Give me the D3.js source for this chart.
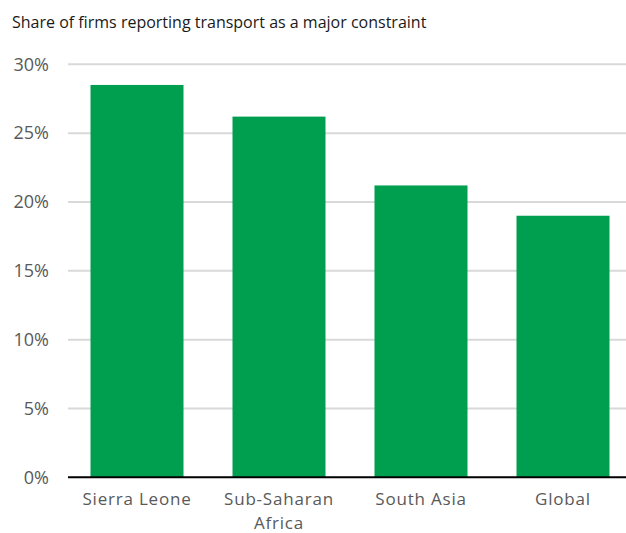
<!DOCTYPE html>
<html>
<head>
<meta charset="utf-8">
<script src="https://cdn.jsdelivr.net/npm/d3@7"></script>
<style>
  body { margin: 0; background: #fff; }
  svg { display: block; font-family: "Open Sans", sans-serif; }
</style>
</head>
<body>
<svg id="chart" width="626" height="533"></svg>
<script>
// chart data
const categories = ["Sierra Leone", "Sub-Saharan Africa", "South Asia", "Global"];
const shares = [28.5, 26.2, 21.2, 19.0];
const yTicks = [0, 5, 10, 15, 20, 25, 30];
const title = "Share of firms reporting transport as a major constraint";

const data = categories.map((c, i) => ({ name: c, value: shares[i] }));

var width = 626,
  plotLeft = 68,
  plotTop = 64.3,
  plotBottom = 477.3;

var svg = d3.select("#chart");

// title
svg.append("text")
  .attr("x", 12)
  .attr("y", 28)
  .attr("fill", "#1a1a1a")
  .style("font-size", "16px")
  .text(title);

var x = d3.scaleBand()
  .domain(categories)
  .range([66, 634])
  .paddingInner(0.345)
  .paddingOuter(0.1725);

var y = d3.scaleLinear().domain([0, 30]).range([plotBottom, plotTop]);

// gridlines
svg.append("g")
  .selectAll("line")
  .data(yTicks.filter((d) => d > 0))
  .enter()
  .append("line")
  .attr("x1", plotLeft)
  .attr("x2", width)
  .attr("y1", (d) => y(d))
  .attr("y2", (d) => y(d))
  .attr("stroke", "#d9d9d9")
  .attr("stroke-width", 2);

// y axis labels
var yAxis = svg.append("g")
  .attr("transform", "translate(" + plotLeft + ",0)")
  .call(d3.axisLeft(y).tickValues(yTicks).tickFormat((d) => d + "%").tickSize(0).tickPadding(19));
yAxis.select(".domain").remove();
yAxis.selectAll("text")
  .attr("fill", "#595959")
  .style("font-size", "18px")
  .style("font-family", "Open Sans, sans-serif");

// bars
svg.selectAll("rect.bar")
  .data(data)
  .enter()
  .append("rect")
  .attr("class", "bar")
  .attr("fill", "#009e4f")
  .attr("x", (d) => x(d.name))
  .attr("y", (d) => y(d.value))
  .attr("width", x.bandwidth())
  .attr("height", (d) => y(0) - y(d.value));

// x axis line
svg.append("line")
  .attr("x1", plotLeft)
  .attr("x2", width)
  .attr("y1", y(0))
  .attr("y2", y(0))
  .attr("stroke", "#000")
  .attr("stroke-width", 2);

// category labels (wrap "Sub-Saharan Africa")
var labels = svg.append("g")
  .selectAll("text")
  .data(categories)
  .enter()
  .append("text")
  .attr("text-anchor", "middle")
  .attr("fill", "#595959")
  .style("font-size", "17px")
  .style("letter-spacing", "0.8px")
  .attr("x", (d) => x(d) + x.bandwidth() / 2)
  .attr("y", 505);

labels.each(function (d) {
  var parts = d === "Sub-Saharan Africa" ? ["Sub-Saharan", "Africa"] : [d];
  var t = d3.select(this);
  parts.forEach((p, i) => {
    t.append("tspan")
      .attr("x", x(d) + x.bandwidth() / 2)
      .attr("dy", i === 0 ? 0 : 24)
      .text(p);
  });
});
</script>
</body>
</html>
